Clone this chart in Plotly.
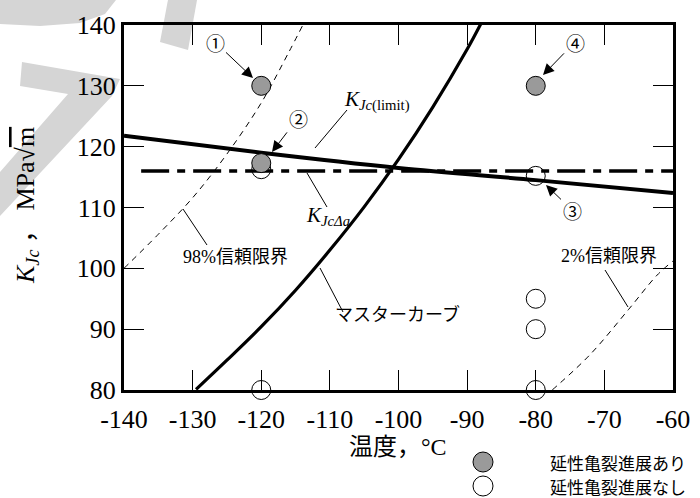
import plotly.graph_objects as go

# ---------------- data ----------------
x_ticks = [-140, -130, -120, -110, -100, -90, -80, -70, -60]
y_ticks = [80, 90, 100, 110, 120, 130, 140]

master_T = [-129.5, -125, -120, -115, -110, -105, -100, -95, -90, -88]
master_K = [80.1, 84.9, 90.4, 96.4, 103.0, 110.1, 117.9, 126.5, 136.0, 140.2]

upper98_T = [-140, -135, -130, -125, -120, -116, -113.8]
upper98_K = [100, 105.6, 111.6, 118.8, 127.2, 135.5, 140.3]

lower2_T = [-77.6, -72.1, -66.5, -62.3, -60]
lower2_K = [80, 85.8, 93.2, 98.9, 101.2]

limit_T = [-140, -120, -100, -80, -60]
limit_K = [121.8, 119.0, 116.5, 114.5, 112.4]

delta_T = [-137.5, -60]
delta_K = [116, 116]

ductile_T = [-120, -120, -80]
ductile_K = [130, 117.3, 130]

brittle_T = [-120, -80, -80, -80, -120, -80]
brittle_K = [116.3, 115.2, 95, 90, 80, 80]

legend_labels = ["延性亀裂進展あり", "延性亀裂進展なし"]

# ---------------- geometry helpers ----------------
W, H = 700, 498
L, R, T_, B = 124, 673, 25, 390   # plot area in pixels
X0, X1, Y0, Y1 = -140, -60, 80, 140


def px(x):
    return (x - L) / (R - L)


def py(y):
    return (B - y) / (B - T_)


def dx(x):
    return X0 + (x - L) / (R - L) * (X1 - X0)


def dy(y):
    return Y0 + (B - y) / (B - T_) * (Y1 - Y0)


FONT = "'Liberation Serif', 'Times New Roman', 'Noto Sans CJK JP', serif"
CJK = "'Noto Sans CJK JP', 'Liberation Serif', sans-serif"
GRAY = "#9a9a9a"

fig = go.Figure()

fig.add_trace(go.Scatter(x=upper98_T, y=upper98_K, mode="lines", line_shape="spline",
                         line=dict(color="black", width=1, dash="6px,5px"), hoverinfo="skip"))
fig.add_trace(go.Scatter(x=lower2_T, y=lower2_K, mode="lines", line_shape="spline",
                         line=dict(color="black", width=1, dash="6px,5px"), hoverinfo="skip"))
fig.add_trace(go.Scatter(x=master_T, y=master_K, mode="lines", line_shape="spline",
                         line=dict(color="black", width=3.2), hoverinfo="skip"))
fig.add_trace(go.Scatter(x=limit_T, y=limit_K, mode="lines", line_shape="spline",
                         line=dict(color="black", width=4), hoverinfo="skip"))
fig.add_trace(go.Scatter(x=delta_T, y=delta_K, mode="lines",
                         line=dict(color="black", width=3.5, dash="28px,8px,8px,8px"), hoverinfo="skip"))
fig.add_trace(go.Scatter(x=brittle_T, y=brittle_K, mode="markers", cliponaxis=False,
                         marker=dict(symbol="circle-open", size=19, color="black",
                                     line=dict(color="black", width=1))))
fig.add_trace(go.Scatter(x=ductile_T, y=ductile_K, mode="markers", cliponaxis=False,
                         marker=dict(symbol="circle", size=19, color=GRAY,
                                     line=dict(color="black", width=1))))

shapes = []


def path(points):
    return "M" + " L".join(f"{px(a):.4f},{py(b):.4f}" for a, b in points) + " Z"


# watermark strokes (light gray)
wm = "#d5d5d5"
for pts in [
    [(0, 0), (116, 0), (105, 14), (80, 23), (40, 26), (0, 24)],
    [(168, 0), (197, 0), (188, 50), (160, 42)],
    [(22, 62), (120, 79), (112, 96), (0, 216), (0, 172), (68, 94), (20, 86)],
]:
    shapes.append(dict(type="path", path=path(pts), xref="paper", yref="paper",
                       fillcolor=wm, line=dict(width=0), layer="below"))

# leader lines
for (a, b, c, d) in [
    (315, 148, 347, 110),
    (307, 173, 327, 207),
    (183, 209, 207, 245),
    (320, 268, 343, 312),
    (605, 270, 628, 307),
]:
    shapes.append(dict(type="line", xref="x", yref="y", x0=dx(a), y0=dy(b), x1=dx(c), y1=dy(d),
                       line=dict(color="black", width=1)))

# legend symbols
for yy, fill in [(462, GRAY), (486, "white")]:
    shapes.append(dict(type="circle", xref="paper", yref="paper", xsizemode="pixel", ysizemode="pixel",
                       xanchor=px(483), yanchor=py(yy), x0=-10, x1=10, y0=-10, y1=10,
                       fillcolor=fill, line=dict(color="black", width=1)))

ann = []
# circled numbers with arrows
for txt, hx, hy, tx, ty in [
    ("①", 253, 78, 215, 42),
    ("②", 272, 152, 298, 118),
    ("③", 546, 185, 572, 210),
    ("④", 543, 75, 575, 42),
]:
    ann.append(dict(text=txt, x=dx(hx), y=dy(hy), xref="x", yref="y", ax=tx - hx, ay=ty - hy,
                    showarrow=True, arrowhead=2, arrowsize=2.2, arrowwidth=1, arrowcolor="black",
                    font=dict(family=CJK, size=19, color="black")))


def label(text, x, y, family, size, xanchor="center", xref="x", yref="y", **kw):
    ann.append(dict(text=text, x=x, y=y, xref=xref, yref=yref, xanchor=xanchor, yanchor="middle",
                    showarrow=False, font=dict(family=family, size=size, color="black"), **kw))


# curve labels
label("98%信頼限界", dx(235.5), dy(257), FONT, 18)
label("マスターカーブ", dx(397), dy(313), CJK, 18)
label("2%信頼限界", dx(609), dy(256), FONT, 18)
label("<i>K</i><sub><i>Jc</i>(limit)</sub>", dx(342), dy(100), FONT, 21, xanchor="left")
label("<i>K</i><sub><i>JcΔa</i></sub>", dx(304), dy(216), FONT, 21, xanchor="left")

# axis titles
label("<i>K</i><sub><i>Jc</i></sub> ， MPa√<span style='text-decoration:overline'>m</span>",
      px(27), py(206), FONT, 26, xref="paper", yref="paper", textangle=-90)
label("温度，°C", px(398), py(447), FONT, 24, xref="paper", yref="paper")

# legend texts
for lab, yy in zip(legend_labels, [462, 486]):
    label(lab, px(548), py(yy), CJK, 17, xanchor="left", xref="paper", yref="paper")

axis_common = dict(showgrid=False, zeroline=False, showline=True, linewidth=3, linecolor="black",
                   mirror="ticks", ticks="inside", ticklen=20, tickwidth=1, tickcolor="black",
                   tickfont=dict(family=FONT, size=26, color="black"))

fig.update_layout(
    width=W, height=H,
    margin=dict(l=L, r=W - R, t=T_, b=H - B),
    paper_bgcolor="white", plot_bgcolor="white",
    showlegend=False,
    xaxis=dict(range=[X0, X1], tickvals=x_ticks, ticktext=[str(v) for v in x_ticks],
               automargin=False, ticklabelstandoff=4, **axis_common),
    yaxis=dict(range=[Y0, Y1], tickvals=y_ticks, ticktext=[str(v) for v in y_ticks],
               automargin=False, **axis_common),
    shapes=shapes,
    annotations=ann,
)

fig.write_html("out.html", config={"displayModeBar": False},
               post_script="document.body.style.margin='0px';document.body.style.overflow='hidden';")
